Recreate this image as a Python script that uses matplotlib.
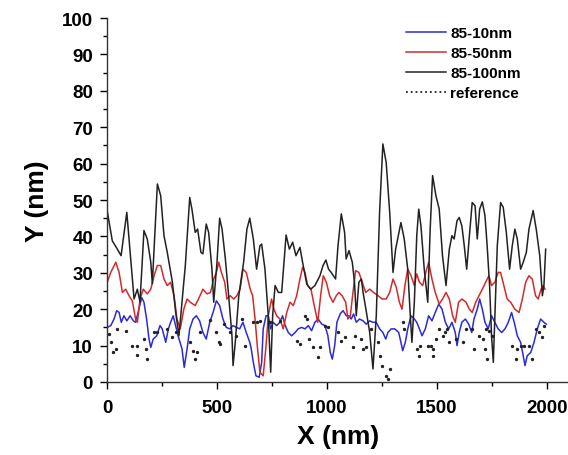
import matplotlib
matplotlib.use("Agg")
import matplotlib.pyplot as plt
from matplotlib.lines import Line2D
from matplotlib.ticker import MultipleLocator

plt.rcParams["font.family"] = ["Liberation Sans", "DejaVu Sans"]
plt.rcParams["font.weight"] = "bold"

# 85-100nm (black)
x_100 = [1, 24, 47, 64, 90, 123, 138, 150, 168, 183, 199, 206, 229, 244, 259, 274, 297, 312, 327,
         356, 376, 386, 401, 412, 427, 436, 451, 462, 477, 485, 500, 512, 523, 538, 553, 568, 573,
         583, 599, 621, 636, 649, 665, 680, 695, 703, 718, 733, 744, 753, 764, 779, 794, 814, 829,
         844, 859, 877, 889, 908, 926, 945, 968, 982, 995, 1007, 1019, 1039, 1050, 1065, 1080, 1087,
         1100, 1115, 1125, 1133, 1145, 1156, 1164, 1178, 1194, 1209, 1224, 1239, 1254, 1269, 1285,
         1300, 1312, 1327, 1336, 1351, 1367, 1377, 1386, 1397, 1408, 1417, 1427, 1442, 1458, 1469,
         1480, 1495, 1510, 1525, 1541, 1556, 1568, 1578, 1591, 1601, 1613, 1624, 1635, 1646, 1660,
         1673, 1683, 1694, 1706, 1718, 1728, 1739, 1748, 1756, 1763, 1774, 1789, 1801, 1815, 1830,
         1842, 1854, 1865, 1880, 1892, 1906, 1918, 1937, 1951, 1967, 1979, 1986, 1994]
y_100 = [47, 38.8, 36.5, 34.7, 46.6, 22.8, 25.5, 22, 41.6, 39.3, 32.9, 27, 54.4, 51.2, 40.2, 35.6,
         27.5, 19.2, 12.7, 32, 50.7, 47.5, 41.1, 42, 35.6, 35.2, 43.4, 41.1, 31, 21.9, 32.9, 45, 42,
         33.8, 23.7, 12.7, 4.5, 10.9, 23.7, 32.9, 42, 45, 39.3, 31, 37.4, 37.9, 31, 18.2, 2.7, 18.2,
         26.5, 24.6, 24.6, 40.4, 36.5, 38.4, 34.7, 37, 32.9, 26.9, 25.5, 26.5, 29.2, 32, 33.5, 31,
         30.1, 28.3, 37.4, 46.2, 41.1, 33.8, 36.1, 32.9, 27.4, 18.2, 27.4, 28.3, 24.6, 19.6, 13.6,
         3.6, 18.2, 46.6, 65.4, 60.3, 46.6, 30.1, 36.5, 41.1, 43.8, 39.3, 31, 20, 10.9, 21.9, 40.2,
         47.5, 42.9, 31, 21.9, 42, 56.7, 51.2, 47.5, 34.7, 26.5, 36.5, 40.2, 39.3, 44.3, 45.2, 42.9,
         37.4, 31, 39.3, 49.3, 48.4, 39.3, 47.5, 49.5, 45.7, 37.4, 26.5, 12.7, 5.4, 18.2, 37.4, 49.3,
         48, 41.1, 31, 37.4, 42, 39.3, 31, 32.9, 35.6, 42, 47.1, 42, 34.7, 23.7, 26.5, 36.5]

# 85-50nm (red)
x_50 = [1, 17, 40, 55, 70, 85, 100, 115, 130, 138, 150, 165, 183, 199, 214, 229, 244, 259, 274, 289,
        305, 318, 333, 349, 364, 379, 401, 416, 436, 455, 470, 485, 497, 508, 520, 535, 545, 560,
        576, 590, 605, 618, 633, 651, 662, 673, 683, 695, 710, 723, 733, 748, 759, 771, 786, 801,
        817, 832, 847, 862, 877, 889, 900, 912, 927, 942, 958, 971, 983, 997, 1012, 1027, 1042,
        1054, 1069, 1085, 1095, 1106, 1118, 1130, 1145, 1160, 1176, 1194, 1212, 1232, 1251, 1269,
        1285, 1300, 1315, 1329, 1341, 1354, 1367, 1382, 1397, 1408, 1420, 1435, 1449, 1462, 1477,
        1492, 1510, 1525, 1541, 1556, 1571, 1583, 1598, 1613, 1632, 1647, 1660, 1676, 1691, 1706,
        1721, 1736, 1748, 1763, 1778, 1789, 1804, 1819, 1835, 1854, 1873, 1888, 1903, 1918, 1933,
        1948, 1960, 1973, 1982, 1991]
y_50 = [27.4, 30.1, 32.9, 30.1, 24.6, 25.5, 23.7, 22.3, 17.3, 16.4, 22.8, 25.5, 24.2, 25.5, 29.2,
        32, 32, 28.3, 26.5, 27.4, 23.7, 17.3, 14.6, 20, 22.8, 21.9, 21, 22.8, 25.5, 24.2, 24.6, 28.3,
        30.1, 32.9, 30.1, 27.4, 22.8, 23.7, 22.8, 23.7, 25.5, 31, 30.1, 25.5, 23.7, 17.3, 10, 2.7,
        1.7, 10, 18.2, 22.8, 20, 18.2, 17.3, 14.6, 19.1, 21.9, 21, 23.7, 28.3, 31.5, 30.1, 26.5,
        25.5, 21, 16.4, 23.7, 29.2, 27.4, 23.7, 21.9, 23.7, 24.6, 23.7, 21.9, 17.3, 18.2, 24.6, 30.6,
        30.1, 27.4, 24.6, 25.5, 24.6, 23.7, 22.8, 22.8, 24.6, 28.3, 26, 21.9, 20, 26.5, 31, 29.2,
        26.5, 29.7, 27.4, 26.5, 30.1, 32.9, 28.3, 24.6, 21.4, 22.8, 24.6, 22.8, 18.2, 16.4, 21.9,
        22.8, 21.9, 20, 19.1, 21.9, 23.7, 25.5, 27.4, 29.2, 26.5, 27.4, 30.1, 30.1, 26.5, 22.8,
        21.9, 20, 19.1, 22.8, 27.4, 29.2, 28.3, 23.7, 22.8, 25.5, 26.5, 25.5]

# 85-10nm (blue)
x_10 = [1, 17, 32, 44, 55, 65, 77, 90, 105, 120, 130, 145, 158, 168, 180, 191, 199, 210, 226, 241,
        251, 267, 279, 289, 301, 312, 323, 341, 351, 364, 376, 391, 406, 421, 436, 451, 467, 482,
        497, 512, 527, 542, 558, 573, 588, 603, 618, 633, 649, 656, 665, 677, 692, 703, 710, 723,
        733, 744, 755, 771, 786, 798, 810, 824, 839, 855, 869, 885, 900, 915, 930, 945, 960, 976,
        991, 1004, 1015, 1024, 1035, 1045, 1060, 1073, 1088, 1100, 1110, 1121, 1133, 1148, 1164,
        1178, 1194, 1209, 1224, 1239, 1254, 1267, 1277, 1292, 1308, 1326, 1336, 1344, 1356, 1367,
        1382, 1397, 1408, 1420, 1432, 1447, 1462, 1477, 1492, 1508, 1523, 1538, 1553, 1568, 1583,
        1591, 1601, 1613, 1629, 1644, 1658, 1668, 1683, 1694, 1706, 1718, 1733, 1748, 1763, 1778,
        1794, 1809, 1824, 1839, 1851, 1865, 1880, 1892, 1900, 1910, 1926, 1941, 1956, 1971, 1986,
        1997]
y_10 = [15, 15.5, 17.3, 19.6, 19.1, 16.4, 18.2, 16.8, 18.2, 16.8, 16.4, 20, 23.2, 21.9, 17.3, 11.8,
        9.5, 11.8, 12.7, 15.5, 14.6, 10.9, 14.6, 16.4, 18.2, 15.5, 12.7, 9.1, 4, 9.1, 14.6, 17.3,
        18.2, 16.8, 13.6, 11.8, 16.4, 19.1, 22.3, 21, 17.3, 15, 14.6, 15.5, 15, 14.6, 16.4, 13.6,
        10.9, 9, 5.4, 1.7, 1.3, 5.4, 14.6, 18.2, 18.2, 14.6, 16.4, 15.5, 16.4, 18.2, 15.5, 13.6,
        12.7, 13.6, 14.6, 15, 14.6, 15.5, 14.1, 16.4, 17.3, 15.9, 15.5, 12.7, 8.1, 6.3, 10, 16.4,
        18.7, 19.6, 18.2, 18.2, 17.3, 18.7, 16.4, 17.3, 16.8, 15.9, 16.8, 16.4, 16.4, 14.6, 13.6,
        11.8, 13.6, 14.6, 14.6, 13.6, 10.9, 8.6, 10.9, 14.6, 18.2, 17.3, 16.4, 14.6, 12.7, 14.6,
        18.2, 16.8, 19.1, 21.4, 20, 16.4, 14.6, 16.4, 13.6, 10, 13.6, 16.4, 17.3, 15.9, 13.6, 17.3,
        20, 22.8, 20, 16.4, 14.6, 18.2, 16.4, 14.6, 13.6, 14.6, 16.4, 19.1, 16.4, 12.7, 10.9, 7.2,
        4.5, 7.2, 8.1, 10.9, 14.6, 17.3, 16.4, 15.9]

# reference (dotted)
x_ref = [9, 17, 27, 40, 47, 85, 115, 135, 138, 168, 176, 180, 214, 229, 274, 297, 312, 379, 391,
         401, 409, 421, 467, 497, 508, 515, 530, 560, 588, 614, 628, 665, 680, 695, 741, 786, 862,
         877, 900, 908, 920, 938, 960, 968, 989, 1004, 1050, 1065, 1080, 1118, 1125, 1156, 1164,
         1178, 1201, 1232, 1239, 1251, 1267, 1277, 1285, 1344, 1351, 1408, 1417, 1423, 1458, 1473,
         1480, 1484, 1495, 1508, 1525, 1538, 1544, 1556, 1586, 1617, 1632, 1660, 1668, 1691, 1709,
         1718, 1721, 1728, 1736, 1751, 1842, 1857, 1865, 1880, 1895, 1918, 1933, 1948, 1963, 1979,
         1986]
y_ref = [13.2, 11, 8.2, 9, 14.6, 14.1, 10, 7.4, 10, 11.8, 9.1, 6.3, 13.7, 13.7, 14.6, 12.4, 13.7,
         11, 8.6, 6.3, 8.2, 13.7, 17, 13.7, 10.9, 10.4, 16, 13.7, 12.7, 17.3, 10, 16.4, 16.4, 16.8,
         16.4, 16.8, 11.4, 10.4, 18, 17.3, 11.8, 9.5, 6.8, 9.5, 15.5, 15.1, 13.6, 11.4, 12.3, 9.5,
         12.7, 11.8, 9.1, 9.5, 14.6, 10.9, 7.2, 4.5, 1.7, 0.8, 3.6, 16.4, 14.6, 9.1, 7.2, 10, 10,
         10, 7.2, 9.1, 11.8, 14.6, 12.7, 13.6, 14.6, 10.9, 11.8, 10.9, 14.6, 14.6, 9.1, 12.7, 11.8,
         9.1, 14.6, 6.3, 14.1, 12.7, 10, 6.3, 9.1, 10, 10, 10, 6.3, 14.6, 13.6, 12.3, 15.5]

fig = plt.figure(figsize=(5.68, 4.56), dpi=100)
ax = fig.add_axes([107 / 568, 73 / 456, 462 / 568, 364 / 456])

ax.plot(x_10, y_10, color="#2b2bd8", lw=1.1, label="85-10nm")
ax.plot(x_50, y_50, color="#d42a2a", lw=1.1, label="85-50nm")
ax.plot(x_100, y_100, color="#222222", lw=1.1, label="85-100nm")
ax.plot(x_ref, y_ref, ls="none", marker="o", ms=1.4, color="#222222")

ax.set_xlim(0, 2100)
ax.set_ylim(0, 100)
ax.xaxis.set_major_locator(MultipleLocator(500))
ax.xaxis.set_minor_locator(MultipleLocator(250))
ax.yaxis.set_major_locator(MultipleLocator(10))
ax.yaxis.set_minor_locator(MultipleLocator(5))
ax.spines["top"].set_visible(False)
ax.spines["right"].set_visible(False)
for s in ("left", "bottom"):
    ax.spines[s].set_linewidth(1.0)
    ax.spines[s].set_color("#333333")
ax.tick_params(which="major", direction="out", length=5, width=1, labelsize=13.5, pad=5)
ax.tick_params(which="minor", direction="out", length=3, width=1)
ax.tick_params(axis="x", which="major", pad=7)
for lbl in ax.get_xticklabels() + ax.get_yticklabels():
    lbl.set_fontweight("bold")

ax.set_xlabel("X (nm)", fontsize=19, fontweight="bold", labelpad=6)
ax.set_ylabel("Y (nm)", fontsize=19, fontweight="bold", labelpad=9)

handles, labels = ax.get_legend_handles_labels()
handles.append(Line2D([], [], color="#222222", ls=":", lw=1.3))
labels.append("reference")
ax.legend(handles, labels, loc="upper left", bbox_to_anchor=(406 / 568, 1 - 27 / 456),
          bbox_transform=fig.transFigure, frameon=False, borderpad=0, borderaxespad=0,
          prop={"weight": "bold", "size": 11}, handlelength=2.6, handletextpad=0.3,
          labelspacing=0.4)

fig.savefig("out.png", dpi=100)
